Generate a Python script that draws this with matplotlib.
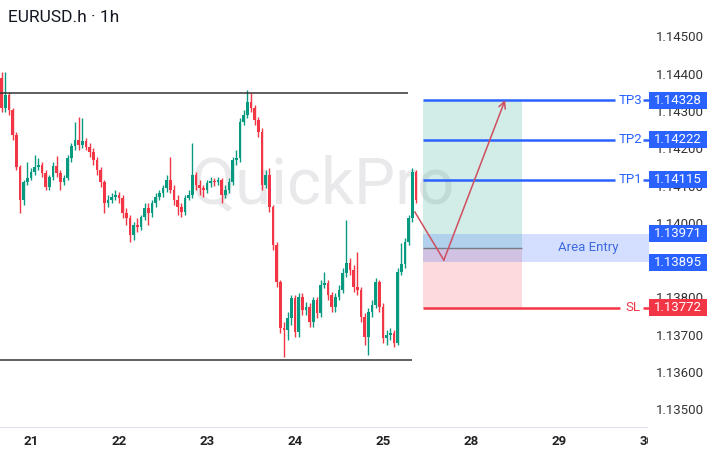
import matplotlib.pyplot as plt
from matplotlib.patches import Rectangle

plt.rcParams['font.family'] = ['Roboto', 'DejaVu Sans']

# hourly candles, EURUSD (20th evening -> 25th morning)
opens = [1.14388, 1.14308, 1.14342, 1.14302, 1.14235, 1.14149, 1.14061, 1.14109, 1.14120, 1.14136,
         1.14149, 1.14155, 1.14133, 1.14096, 1.14123, 1.14152, 1.14133, 1.14109, 1.14120, 1.14174,
         1.14206, 1.14222, 1.14208, 1.14219, 1.14203, 1.14190, 1.14168, 1.14141, 1.14109, 1.14053,
         1.14061, 1.14069, 1.14074, 1.14066, 1.14026, 1.14013, 1.13967, 1.13994, 1.13989, 1.14015,
         1.14040, 1.14026, 1.14053, 1.14069, 1.14080, 1.14093, 1.14115, 1.14088, 1.14061, 1.14042,
         1.14029, 1.14066, 1.14074, 1.14128, 1.14101, 1.14093, 1.14088, 1.14107, 1.14112, 1.14109,
         1.14115, 1.14074, 1.14088, 1.14109, 1.14168, 1.14174, 1.14270, 1.14289, 1.14324, 1.14308,
         1.14275, 1.14243, 1.14101, 1.14128, 1.14042, 1.13940, 1.13841, 1.13718, 1.13713, 1.13745,
         1.13798, 1.13707, 1.13801, 1.13766, 1.13774, 1.13734, 1.13793, 1.13758, 1.13833, 1.13839,
         1.13806, 1.13774, 1.13801, 1.13820, 1.13865, 1.13892, 1.13873, 1.13828, 1.13820, 1.13747,
         1.13694, 1.13761, 1.13780, 1.13841, 1.13774, 1.13691, 1.13699, 1.13705, 1.13678, 1.13868,
         1.13889, 1.13948, 1.14013, 1.14136]
closes = [1.14308, 1.14342, 1.14302, 1.14235, 1.14149, 1.14061, 1.14109, 1.14120, 1.14136, 1.14149,
          1.14155, 1.14133, 1.14096, 1.14123, 1.14152, 1.14133, 1.14109, 1.14120, 1.14174, 1.14206,
          1.14222, 1.14208, 1.14219, 1.14203, 1.14190, 1.14168, 1.14141, 1.14109, 1.14053, 1.14061,
          1.14069, 1.14074, 1.14066, 1.14026, 1.14013, 1.13967, 1.13994, 1.13989, 1.14015, 1.14040,
          1.14026, 1.14053, 1.14069, 1.14080, 1.14093, 1.14115, 1.14088, 1.14061, 1.14042, 1.14029,
          1.14066, 1.14074, 1.14128, 1.14101, 1.14093, 1.14088, 1.14107, 1.14112, 1.14109, 1.14115,
          1.14074, 1.14088, 1.14109, 1.14168, 1.14174, 1.14270, 1.14289, 1.14324, 1.14308, 1.14275,
          1.14243, 1.14101, 1.14128, 1.14042, 1.13940, 1.13841, 1.13718, 1.13713, 1.13745, 1.13798,
          1.13707, 1.13801, 1.13766, 1.13774, 1.13734, 1.13793, 1.13758, 1.13833, 1.13839, 1.13806,
          1.13774, 1.13801, 1.13820, 1.13865, 1.13892, 1.13873, 1.13828, 1.13820, 1.13747, 1.13694,
          1.13761, 1.13780, 1.13841, 1.13774, 1.13691, 1.13699, 1.13705, 1.13678, 1.13868, 1.13889,
          1.13948, 1.14013, 1.14136, 1.14061]
highs = [1.14404, 1.14404, 1.14350, 1.14308, 1.14243, 1.14155, 1.14115, 1.14163, 1.14147, 1.14182,
         1.14174, 1.14163, 1.14141, 1.14128, 1.14163, 1.14179, 1.14141, 1.14128, 1.14182, 1.14214,
         1.14270, 1.14283, 1.14281, 1.14227, 1.14214, 1.14200, 1.14176, 1.14149, 1.14115, 1.14074,
         1.14080, 1.14088, 1.14082, 1.14074, 1.14040, 1.14021, 1.14002, 1.14013, 1.14021, 1.14053,
         1.14053, 1.14061, 1.14080, 1.14088, 1.14101, 1.14128, 1.14176, 1.14101, 1.14074, 1.14053,
         1.14074, 1.14088, 1.14214, 1.14136, 1.14115, 1.14101, 1.14115, 1.14123, 1.14120, 1.14123,
         1.14120, 1.14101, 1.14120, 1.14176, 1.14195, 1.14281, 1.14302, 1.14356, 1.14348, 1.14316,
         1.14283, 1.14254, 1.14141, 1.14147, 1.14048, 1.13948, 1.13847, 1.13734, 1.13761, 1.13806,
         1.13806, 1.13812, 1.13812, 1.13788, 1.13785, 1.13801, 1.13801, 1.13847, 1.13868, 1.13847,
         1.13814, 1.13812, 1.13833, 1.13879, 1.14007, 1.13906, 1.13887, 1.13922, 1.13828, 1.13758,
         1.13772, 1.13793, 1.13852, 1.13847, 1.13785, 1.13713, 1.13718, 1.13713, 1.13879, 1.13946,
         1.13959, 1.14021, 1.14147, 1.14141]
lows = [1.14297, 1.14297, 1.14289, 1.14222, 1.14141, 1.14026, 1.14048, 1.14101, 1.14115, 1.14128,
        1.14141, 1.14123, 1.14088, 1.14088, 1.14115, 1.14123, 1.14088, 1.14101, 1.14115, 1.14163,
        1.14195, 1.14195, 1.14200, 1.14195, 1.14176, 1.14155, 1.14128, 1.14096, 1.14026, 1.14042,
        1.14053, 1.14061, 1.14053, 1.14013, 1.13994, 1.13948, 1.13954, 1.13975, 1.13981, 1.14007,
        1.13994, 1.14015, 1.14042, 1.14061, 1.14069, 1.14082, 1.14080, 1.14048, 1.14021, 1.14015,
        1.14021, 1.14061, 1.14066, 1.14088, 1.14074, 1.14069, 1.14080, 1.14096, 1.14099, 1.14101,
        1.14053, 1.14066, 1.14080, 1.14101, 1.14155, 1.14163, 1.14262, 1.14281, 1.14297, 1.14262,
        1.14230, 1.14088, 1.14093, 1.14029, 1.13927, 1.13828, 1.13705, 1.13640, 1.13686, 1.13726,
        1.13694, 1.13694, 1.13753, 1.13753, 1.13721, 1.13721, 1.13745, 1.13747, 1.13825, 1.13793,
        1.13761, 1.13761, 1.13793, 1.13812, 1.13855, 1.13860, 1.13814, 1.13806, 1.13734, 1.13672,
        1.13646, 1.13747, 1.13772, 1.13761, 1.13678, 1.13672, 1.13686, 1.13667, 1.13672, 1.13860,
        1.13879, 1.13940, 1.14002, 1.14053]

day_pos = [8, 32, 56, 80, 104, 128, 152, 176]
day_labels = ['21', '22', '23', '24', '25', '28', '29', '30']

range_top = 1.14348
range_bottom = 1.13632

tp_levels = [1.14328, 1.14222, 1.14115]
tp_names = ['TP3', 'TP2', 'TP1']
entry_high = 1.13971
entry_low = 1.13895
entry_mid = 1.13933
sl_level = 1.13772

path_x = [112.7, 120.6, 137.3]
path_y = [1.14029, 1.13900, 1.14329]

green = '#089981'
red = '#f23645'
blue = '#2962ff'

fig = plt.figure(figsize=(7.11, 4.55), dpi=100)
ax = fig.add_axes([0, 28 / 455, 648 / 711, 427 / 455])

# watermark
ax.text(87.6, 1.14053, 'QuickPro', fontsize=47, color='#e9e9eb', ha='center',
        va='baseline', zorder=0)

# candles
for i in range(len(closes)):
    c = green if closes[i] >= opens[i] else red
    ax.vlines(i, lows[i], highs[i], color=c, lw=1, zorder=2)
    h = closes[i] - opens[i]
    if abs(h) < 0.00003:
        h = 0.00003 if h >= 0 else -0.00003
    ax.bar(i, h, bottom=opens[i], width=0.72, color=c, lw=0, zorder=3)

# range lines
ax.hlines(range_top, -1, 110.8, color='#333333', lw=1.1, zorder=4)
ax.hlines(range_bottom, -1, 112, color='#333333', lw=1.1, zorder=4)

# trade setup boxes
x0, x1 = 114.9, 141.9
ax.fill_between([x0, x1], entry_mid, tp_levels[0], color=green, alpha=0.18, lw=0, zorder=1)
ax.fill_between([x0, x1], sl_level, entry_mid, color=red, alpha=0.18, lw=0, zorder=1)
ax.fill_between([x0, 177], entry_low, entry_high, color=blue, alpha=0.2, lw=0, zorder=1)
ax.hlines(entry_mid, x0, x1, color='#787b86', lw=1, zorder=2)
ax.text(159.9, entry_mid, 'Area Entry', color='#3d6ae0', fontsize=9.5, ha='center',
        va='center', zorder=5)

for lvl, name in zip(tp_levels, tp_names):
    ax.hlines(lvl, x0, 167.3, color=blue, lw=1.8, zorder=4)
    ax.hlines(lvl, 174.9, 177, color=blue, lw=1.8, zorder=4, clip_on=False)
    ax.text(171.4, lvl, name, color=blue, fontsize=9.5, ha='center', va='center', zorder=5)
ax.hlines(sl_level, x0, 168.6, color=red, lw=1.8, zorder=4)
ax.hlines(sl_level, 174.9, 177, color=red, lw=1.8, zorder=4, clip_on=False)
ax.text(172.2, sl_level, 'SL', color=red, fontsize=9.5, ha='center', va='center', zorder=5)

# projected path
ax.plot(path_x[:2], path_y[:2], color='#cf4f5f', lw=1.1, zorder=5)
ax.annotate('', xy=(path_x[2], path_y[2]), xytext=(path_x[1], path_y[1]),
            arrowprops=dict(arrowstyle='->', color='#cf4f5f', lw=1.1,
                            shrinkA=0, shrinkB=0, mutation_scale=12), zorder=5)

ax.set_xlim(-0.436, 176.27)
ax.set_ylim(1.13453, 1.14597)

# price labels on the axis
box_h = 0.000228
for lvl, col in zip(tp_levels + [entry_high, entry_low, sl_level],
                    [blue] * 5 + [red]):
    tr = ax.get_yaxis_transform()
    ax.add_patch(Rectangle((1.0015, lvl - box_h), 0.0895, 2 * box_h, transform=tr,
                           facecolor=col, edgecolor='none', clip_on=False, zorder=8))
    ax.text(1.046, lvl, '%.5f' % lvl, transform=tr, color='white', fontsize=9.5,
            ha='center', va='center', clip_on=False, zorder=9)

ax.yaxis.tick_right()
ax.set_yticks([1.135 + 0.001 * k for k in range(11)])
ax.set_yticklabels(['%.5f' % (1.135 + 0.001 * k) for k in range(11)])
ax.tick_params(axis='y', length=0, pad=5.8, labelsize=9.5, labelcolor='#333333')
ax.set_xticks(day_pos)
ax.set_xticklabels(day_labels)
ax.tick_params(axis='x', length=0, pad=6, labelsize=9.5, labelcolor='#222222')
for lbl in ax.get_xticklabels():
    lbl.set_fontweight('bold')

for s in ['top', 'left', 'right']:
    ax.spines[s].set_visible(False)
ax.spines['bottom'].set_color('#e0e3eb')

# price scale area hides the last date label partly
fig.patches.append(Rectangle((648 / 711, 0), 63 / 711, 28 / 455, transform=fig.transFigure,
                             facecolor='white', edgecolor='none', zorder=1))

fig.text(8 / 711, 1 - 18 / 455, 'EURUSD.h · 1h', fontsize=12.5, color='#131722', va='center')

fig.savefig('out.png', dpi=100)
